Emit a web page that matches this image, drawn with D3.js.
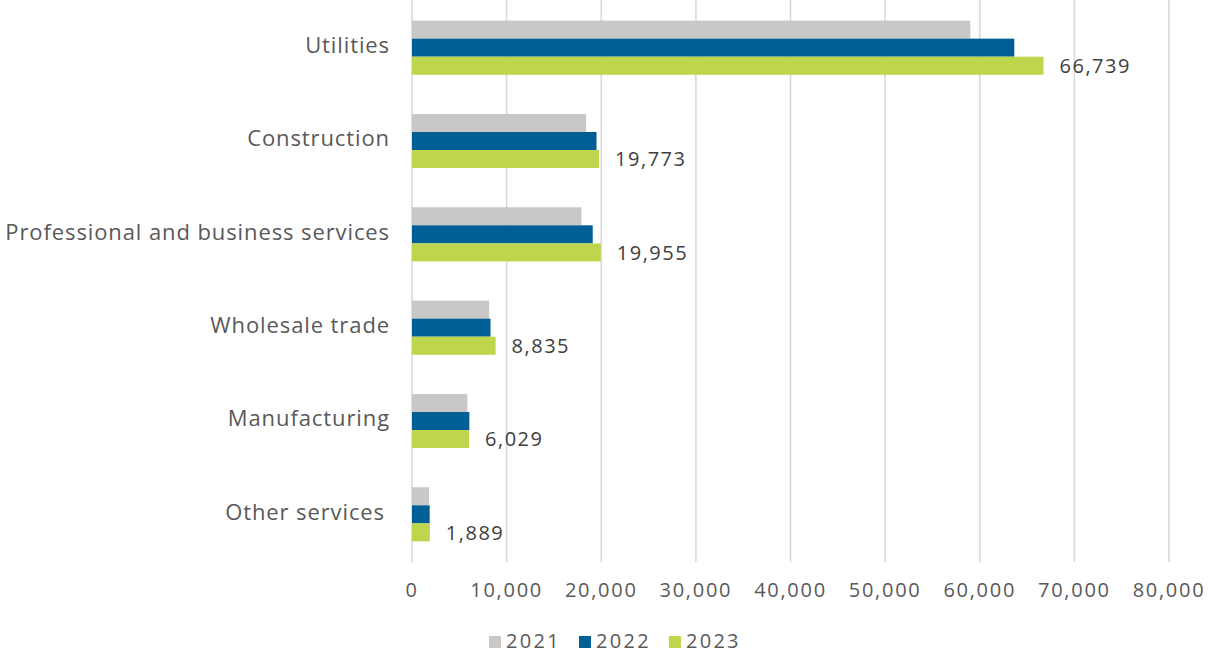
<!DOCTYPE html>
<html>
<head>
<meta charset="utf-8">
<script src="https://cdn.jsdelivr.net/npm/d3@7"></script>
<style>
  body { margin: 0; background: #fff; }
  svg text { font-family: "Open Sans", sans-serif; }
</style>
</head>
<body>
<svg id="chart" width="1208" height="654"></svg>
<script>
// categories top to bottom
var categories = ["Utilities", "Construction", "Professional and business services",
                  "Wholesale trade", "Manufacturing", "Other services"];
var years = ["2021", "2022", "2023"];
var values2021 = [59000, 18400, 17900, 8150, 5850, 1800];
var values2022 = [63650, 19500, 19100, 8300, 6060, 1870];
var values2023 = [66739, 19773, 19955, 8835, 6029, 1889];
var xTicks = [0, 10000, 20000, 30000, 40000, 50000, 60000, 70000, 80000];
var colors = ["#c9c8c6", "#025f96", "#bed64b"];

var series = [values2021, values2022, values2023];
var svg = d3.select("#chart");
var fmt = d3.format(",");

var x = d3.scaleLinear().domain([0, 80000]).range([412, 1169]);
var y = d3.scaleBand().domain(categories).range([1, 561]).paddingInner(0.42).paddingOuter(0.21);
var yInner = d3.scaleBand().domain(years).range([0, y.bandwidth()]);

// gridlines
svg.append("g").selectAll("line")
  .data(xTicks)
  .enter()
  .append("line")
  .attr("x1", function(d){ return x(d); })
  .attr("x2", function(d){ return x(d); })
  .attr("y1", 0).attr("y2", 562)
  .attr("stroke", "#d9d9d9").attr("stroke-width", 1.6);

// tick labels
svg.append("g").selectAll("text")
  .data(xTicks)
  .enter()
  .append("text")
  .attr("x", function(d){ return x(d); })
  .attr("y", 597)
  .attr("text-anchor", "middle")
  .attr("font-size", 20)
  .attr("letter-spacing", 1.7)
  .attr("fill", "#595959")
  .text(function(d){ return fmt(d); });

// bars
var groups = svg.append("g").selectAll("g")
  .data(categories)
  .enter()
  .append("g")
  .attr("transform", function(c){ return "translate(0," + y(c) + ")"; });

groups.selectAll("rect")
  .data(function(c, i){ return years.map(function(yr, j){ return {year: yr, v: series[j][i], k: j}; }); })
  .enter()
  .append("rect")
  .attr("x", x(0))
  .attr("y", function(d){ return yInner(d.year); })
  .attr("width", function(d){ return x(d.v) - x(0); })
  .attr("height", yInner.bandwidth())
  .attr("fill", function(d){ return colors[d.k]; });

// value labels on 2023 bars
groups.append("text")
  .attr("x", function(c, i){ return x(values2023[i]) + 16; })
  .attr("y", yInner("2023") + yInner.bandwidth() / 2)
  .attr("dy", "0.36em")
  .attr("font-size", 20)
  .attr("letter-spacing", 1.5)
  .attr("fill", "#404040")
  .text(function(c, i){ return fmt(values2023[i]); });

// category labels
svg.append("g").selectAll("text")
  .data(categories)
  .enter()
  .append("text")
  .attr("x", function(c){ return c === "Other services" ? 385 : 390; })
  .attr("y", function(c){ return y(c) + y.bandwidth() / 2; })
  .attr("dy", "0.24em")
  .attr("text-anchor", "end")
  .attr("font-size", 22)
  .attr("letter-spacing", 0.9)
  .attr("fill", "#595959")
  .text(function(c){ return c; });

// legend, laid out from text widths
var legend = svg.append("g");
var lx = 489;
years.forEach(function(yr, i){
  legend.append("rect")
    .attr("x", lx).attr("y", 636)
    .attr("width", 12).attr("height", 12)
    .attr("fill", colors[i]);
  var t = legend.append("text")
    .attr("x", lx + 17).attr("y", 648)
    .attr("font-size", 20)
    .attr("letter-spacing", 2.3)
    .attr("fill", "#595959")
    .text(yr);
  lx += 17 + t.node().getComputedTextLength() + 18;
});
</script>
</body>
</html>
